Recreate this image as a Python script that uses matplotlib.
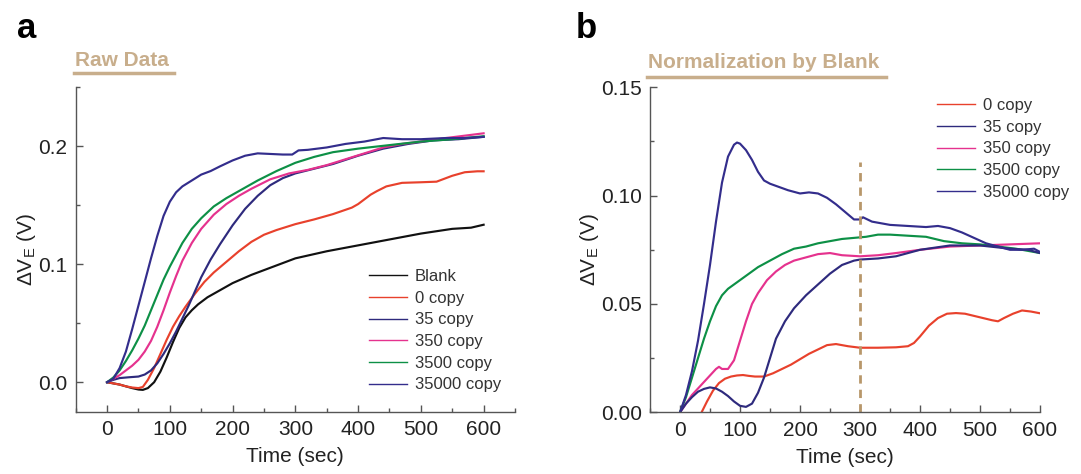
import matplotlib
matplotlib.use("Agg")
import matplotlib.pyplot as plt
from matplotlib.lines import Line2D
from matplotlib.ticker import MultipleLocator, FormatStrFormatter

plt.rcParams['font.family'] = ['Liberation Sans', 'DejaVu Sans']
plt.rcParams['mathtext.fontset'] = 'custom'
plt.rcParams['mathtext.rm'] = 'Liberation Sans'
plt.rcParams['mathtext.it'] = 'Liberation Sans:italic'

# ---------------- Data: panel a (raw data) ----------------
a_blank_t = [0, 10, 20, 30, 40, 50, 57, 65, 75, 85, 95, 105, 115, 125, 135, 145, 160, 180, 200,
             230, 260, 300, 350, 400, 450, 500, 550, 580, 600]
a_blank_v = [0, -0.001, -0.002, -0.0035, -0.005, -0.0062, -0.0065, -0.005, 0.0, 0.009, 0.021,
             0.034, 0.046, 0.055, 0.061, 0.066, 0.072, 0.078, 0.084, 0.091, 0.097, 0.105, 0.111,
             0.116, 0.121, 0.126, 0.130, 0.131, 0.1335]

a_c0_t = [0, 10, 20, 30, 40, 50, 57, 65, 75, 85, 95, 105, 115, 125, 140, 155, 170, 190, 210, 230,
          250, 270, 300, 330, 360, 390, 400, 410, 420, 430, 445, 470, 500, 525, 535, 550, 570,
          590, 600]
a_c0_v = [0, -0.001, -0.002, -0.0035, -0.0045, -0.005, -0.004, 0.002, 0.012, 0.024, 0.036, 0.047,
          0.056, 0.064, 0.075, 0.085, 0.093, 0.102, 0.111, 0.119, 0.125, 0.129, 0.134, 0.138,
          0.1425, 0.148, 0.151, 0.155, 0.159, 0.162, 0.166, 0.169, 0.1695, 0.170, 0.172, 0.175,
          0.178, 0.1788, 0.1788]

a_c35_t = [0, 10, 20, 35, 50, 60, 70, 80, 90, 100, 110, 120, 130, 140, 150, 165, 180, 200, 220,
           240, 260, 280, 300, 330, 360, 400, 440, 480, 520, 560, 600]
a_c35_v = [0, 0.002, 0.0035, 0.0042, 0.0048, 0.0065, 0.010, 0.016, 0.024, 0.033, 0.043, 0.054,
           0.065, 0.077, 0.089, 0.104, 0.117, 0.133, 0.147, 0.158, 0.167, 0.173, 0.177, 0.181,
           0.185, 0.192, 0.198, 0.202, 0.205, 0.206, 0.208]

a_c350_t = [0, 10, 20, 30, 40, 50, 60, 70, 80, 90, 100, 110, 120, 135, 150, 170, 190, 210, 230,
            260, 290, 320, 350, 380, 410, 440, 470, 500, 540, 570, 600]
a_c350_v = [0, 0.003, 0.006, 0.010, 0.014, 0.019, 0.026, 0.035, 0.047, 0.061, 0.076, 0.090,
            0.103, 0.118, 0.130, 0.142, 0.151, 0.158, 0.164, 0.172, 0.177, 0.180, 0.184, 0.189,
            0.194, 0.199, 0.202, 0.204, 0.207, 0.209, 0.211]

a_c3500_t = [0, 10, 20, 30, 40, 50, 60, 70, 80, 90, 100, 110, 120, 135, 150, 170, 190, 210, 240,
             270, 300, 330, 360, 400, 450, 500, 550, 600]
a_c3500_v = [0, 0.004, 0.010, 0.018, 0.027, 0.037, 0.048, 0.061, 0.074, 0.087, 0.098, 0.108,
             0.118, 0.130, 0.139, 0.149, 0.156, 0.162, 0.171, 0.179, 0.186, 0.191, 0.195, 0.198,
             0.201, 0.204, 0.206, 0.2085]

a_c35000_t = [0, 10, 20, 30, 40, 50, 60, 70, 80, 90, 100, 110, 120, 135, 150, 165, 180, 200, 220,
              240, 260, 280, 295, 305, 320, 350, 380, 410, 440, 470, 500, 540, 570, 600]
a_c35000_v = [0, 0.003, 0.012, 0.026, 0.045, 0.065, 0.085, 0.105, 0.124, 0.141, 0.153, 0.161,
              0.166, 0.171, 0.176, 0.179, 0.183, 0.188, 0.192, 0.194, 0.1935, 0.193, 0.193,
              0.1965, 0.197, 0.199, 0.202, 0.204, 0.207, 0.206, 0.206, 0.207, 0.207, 0.208]

# ---------------- Data: panel b (normalized by blank) ----------------
b_c0_t = [20, 30, 36, 45, 55, 65, 75, 85, 95, 105, 115, 125, 140, 155, 170, 185, 200, 215, 230,
          245, 260, 280, 300, 330, 360, 380, 390, 400, 415, 430, 445, 460, 475, 490, 505, 520,
          530, 540, 555, 570, 585, 600]
b_c0_v = [-0.009, -0.003, 0, 0.005, 0.010, 0.0135, 0.0155, 0.0165, 0.017, 0.0172, 0.0168, 0.0165,
          0.0165, 0.018, 0.020, 0.022, 0.0245, 0.027, 0.029, 0.031, 0.0315, 0.0305, 0.0298,
          0.0298, 0.030, 0.0305, 0.032, 0.035, 0.040, 0.0435, 0.0455, 0.0458, 0.0455, 0.0445,
          0.0435, 0.0425, 0.042, 0.0435, 0.0455, 0.047, 0.0465, 0.0457]

b_c35_t = [0, 10, 20, 30, 40, 50, 60, 70, 80, 90, 100, 110, 120, 130, 140, 150, 160, 175, 190,
           210, 230, 250, 270, 290, 300, 330, 360, 400, 450, 500, 550, 580, 600]
b_c35_v = [0, 0.004, 0.007, 0.0095, 0.0108, 0.0115, 0.011, 0.0095, 0.0075, 0.005, 0.003, 0.0025,
           0.004, 0.009, 0.016, 0.025, 0.034, 0.042, 0.048, 0.054, 0.059, 0.064, 0.068, 0.070,
           0.0705, 0.071, 0.072, 0.075, 0.077, 0.077, 0.0755, 0.075, 0.0735]

b_c350_t = [0, 10, 20, 30, 40, 50, 60, 65, 70, 80, 90, 100, 110, 120, 130, 145, 160, 175, 190,
            210, 230, 250, 270, 300, 330, 360, 400, 450, 500, 550, 600]
b_c350_v = [0, 0.004, 0.008, 0.011, 0.014, 0.017, 0.020, 0.021, 0.020, 0.020, 0.024, 0.033,
            0.042, 0.050, 0.055, 0.061, 0.065, 0.068, 0.070, 0.0715, 0.073, 0.0735, 0.0725, 0.072,
            0.0725, 0.0735, 0.075, 0.0765, 0.077, 0.0775, 0.078]

b_c3500_t = [0, 10, 20, 30, 40, 50, 60, 70, 80, 90, 100, 115, 130, 150, 170, 190, 210, 230, 250,
             270, 290, 310, 330, 350, 380, 410, 440, 470, 500, 530, 560, 600]
b_c3500_v = [0, 0.007, 0.016, 0.025, 0.034, 0.042, 0.049, 0.054, 0.057, 0.059, 0.061, 0.064,
             0.067, 0.070, 0.073, 0.0755, 0.0765, 0.078, 0.079, 0.080, 0.0805, 0.081, 0.082,
             0.082, 0.0815, 0.081, 0.079, 0.078, 0.0775, 0.0765, 0.0755, 0.0735]

b_c35000_t = [0, 10, 20, 30, 40, 50, 60, 70, 80, 90, 95, 100, 110, 120, 130, 140, 150, 165, 180,
              200, 215, 230, 245, 260, 275, 290, 300, 305, 320, 350, 380, 410, 430, 450, 470,
              490, 510, 530, 550, 570, 590, 600]
b_c35000_v = [0, 0.008, 0.019, 0.033, 0.050, 0.068, 0.088, 0.106, 0.118, 0.1235, 0.1245, 0.124,
              0.121, 0.1165, 0.111, 0.107, 0.1055, 0.104, 0.1025, 0.101, 0.1015, 0.101, 0.099,
              0.096, 0.0925, 0.089, 0.089, 0.090, 0.088, 0.0865, 0.086, 0.0855, 0.086, 0.085,
              0.083, 0.0805, 0.078, 0.0765, 0.075, 0.075, 0.0755, 0.074]

marker_time = 300
marker_top = 0.1157

labels_a = ["Blank", "0 copy", "35 copy", "350 copy", "3500 copy", "35000 copy"]
labels_b = ["0 copy", "35 copy", "350 copy", "3500 copy", "35000 copy"]

# ---------------- Styling ----------------
C_BLANK = "#111111"
C_0 = "#e8412c"
C_35 = "#2e2a7d"
C_350 = "#e5328e"
C_3500 = "#0d9046"
C_35000 = "#332d8c"
TAN = "#c8ae8c"
SPINE = "#555555"

W, H = 1081, 474
fig = plt.figure(figsize=(W / 100, H / 100), dpi=100)


def fr(x0, y0, x1, y1):
    return [x0 / W, 1 - y1 / H, (x1 - x0) / W, (y1 - y0) / H]


ax1 = fig.add_axes(fr(75.7, 87.3, 515, 411.7))
ax2 = fig.add_axes(fr(650, 87.3, 1040, 412.3))

lw = 1.55
ax1.plot(a_blank_t, a_blank_v, color=C_BLANK, lw=lw)
ax1.plot(a_c0_t, a_c0_v, color=C_0, lw=lw)
ax1.plot(a_c35_t, a_c35_v, color=C_35, lw=lw)
ax1.plot(a_c350_t, a_c350_v, color=C_350, lw=lw)
ax1.plot(a_c3500_t, a_c3500_v, color=C_3500, lw=lw)
ax1.plot(a_c35000_t, a_c35000_v, color=C_35000, lw=lw)

ax2.plot(b_c0_t, b_c0_v, color=C_0, lw=lw)
ax2.plot(b_c350_t, b_c350_v, color=C_350, lw=lw)
ax2.plot(b_c3500_t, b_c3500_v, color=C_3500, lw=lw)
ax2.plot(b_c35_t, b_c35_v, color=C_35, lw=lw)
ax2.plot(b_c35000_t, b_c35000_v, color=C_35000, lw=lw)
ax2.plot([marker_time, marker_time], [0, marker_top], color="#b8976a", lw=2,
         ls=(0, (3, 2.2)))

ax1.set_xlim(-50, 650)
ax1.set_ylim(-0.025, 0.25)
ax1.xaxis.set_major_locator(MultipleLocator(100))
ax1.xaxis.set_minor_locator(MultipleLocator(50))
ax1.yaxis.set_major_locator(MultipleLocator(0.1))
ax1.yaxis.set_minor_locator(MultipleLocator(0.05))
ax1.yaxis.set_major_formatter(FormatStrFormatter('%.1f'))

ax2.set_xlim(-50, 600)
ax2.set_ylim(0, 0.15)
ax2.xaxis.set_major_locator(MultipleLocator(100))
ax2.xaxis.set_minor_locator(MultipleLocator(50))
ax2.yaxis.set_major_locator(MultipleLocator(0.05))
ax2.yaxis.set_minor_locator(MultipleLocator(0.025))
ax2.yaxis.set_major_formatter(FormatStrFormatter('%.2f'))

for ax in (ax1, ax2):
    for s in ("top", "right"):
        ax.spines[s].set_visible(False)
    for s in ("left", "bottom"):
        ax.spines[s].set_color(SPINE)
        ax.spines[s].set_linewidth(1.0)
    ax.tick_params(which="major", direction="in", length=5, width=1, color=SPINE,
                   labelsize=15, labelcolor="#222222", pad=6)
    ax.tick_params(which="minor", direction="in", length=3, width=1, color=SPINE)
    ax.set_xlabel("Time (sec)", fontsize=15, color="#222222", labelpad=6)
    ax.set_ylabel(r"$\Delta$V$_\mathregular{E}$ (V)", fontsize=15, color="#222222", labelpad=0)
    ax.patch.set_alpha(0)

# Legends
h_a = [Line2D([], [], color=c, lw=1.0) for c in (C_BLANK, C_0, C_35, C_350, C_3500, C_35000)]
ax1.legend(h_a, labels_a, loc="upper left", bbox_to_anchor=((369 - 75.7) / (515 - 75.7),
           (411.7 - 269) / (411.7 - 87.3)), frameon=False, fontsize=12, handlelength=2.3,
           handletextpad=0.45, labelspacing=0.4, borderpad=0, borderaxespad=0,
           labelcolor="#333333")
h_b = [Line2D([], [], color=c, lw=1.0) for c in (C_0, C_35, C_350, C_3500, C_35000)]
ax2.legend(h_b, labels_b, loc="upper left", bbox_to_anchor=((937 - 650) / (1040 - 650),
           (412.3 - 98) / (412.3 - 87.3)), frameon=False, fontsize=12, handlelength=2.3,
           handletextpad=0.45, labelspacing=0.4, borderpad=0, borderaxespad=0,
           labelcolor="#333333")

# Panel labels and titles
fig.text(17 / W, 1 - 38 / H, "a", fontsize=25, fontweight="bold", ha="left", va="baseline")
fig.text(576 / W, 1 - 38 / H, "b", fontsize=25, fontweight="bold", ha="left", va="baseline")

fig.text(75 / W, 1 - 60 / H, "Raw Data", fontsize=15, fontweight="bold", color=TAN,
         ha="left", va="center")
fig.add_artist(Line2D([74 / W, 174 / W], [1 - 73 / H, 1 - 73 / H], color=TAN, lw=2.5))
fig.text(648 / W, 1 - 63 / H, "Normalization by Blank", fontsize=15, fontweight="bold",
         color=TAN, ha="left", va="center")
fig.add_artist(Line2D([647 / W, 886 / W], [1 - 77 / H, 1 - 77 / H], color=TAN, lw=2.5))

fig.savefig("out.png", dpi=100, facecolor="white")
